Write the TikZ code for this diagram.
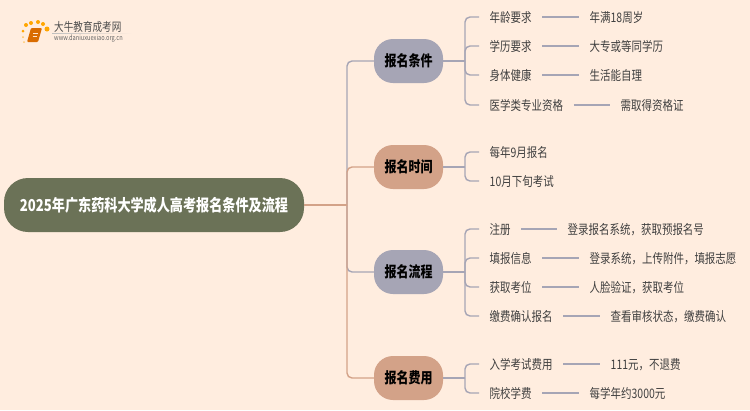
\documentclass[tikz,border=0pt]{standalone}
\usepackage{fontspec}
\setmainfont[FakeStretch=0.8]{Noto Sans CJK SC}
\definecolor{bgcol}{HTML}{FFEDDF}
\definecolor{rootcol}{HTML}{6B7257}
\definecolor{purplecol}{HTML}{A6A5B5}
\definecolor{tancol}{HTML}{D3A288}
\definecolor{textcol}{HTML}{3F3F3F}
\tikzset{
	rootnode/.style={fill=rootcol,text=white,font=\fontsize{16.4}{18}\selectfont\bfseries,rounded corners=24pt,minimum width=300pt,minimum height=54pt,inner sep=0pt},
	mainnode/.style={text=black,font=\fontsize{15}{17}\selectfont\bfseries,rounded corners=19pt,minimum width=69pt,minimum height=44pt,inner sep=0pt},
	leafnode/.style={text=textcol,font=\fontsize{13.1}{15}\selectfont,inner xsep=10.5pt,inner ysep=0pt,text height=11.5pt,text depth=1.5pt,anchor=west},
	purpleline/.style={draw=purplecol,line width=1.4pt,rounded corners=5pt},
	tanline/.style={draw=tancol,line width=1.4pt,rounded corners=5pt},
	linkline/.style={draw=purplecol,line width=1.2pt},
	dot/.style={fill=orange!70!yellow,circle,inner sep=0pt}
}
\begin{document}
\begin{tikzpicture}[x=1pt,y=-1pt]
	\useasboundingbox (0,0) rectangle (750,410);
	\fill [bgcol] (0,0) rectangle (750,410);
	% Logo
	\node [dot,minimum size=3pt] (dota) at (23,31) {};
	\node [dot,minimum size=4pt] (dotb) at (26,25) {};
	\node [dot,minimum size=4pt] (dotc) at (31,23) {};
	\node [dot,minimum size=4pt] (dotd) at (38,22) {};
	\node [dot,minimum size=4pt] (dote) at (43,24) {};
	\node [dot,minimum size=5pt] (dotf) at (47,29) {};
	\node [dot,minimum size=2pt,opacity=.6] (dotg) at (23,37) {};
	\node [dot,minimum size=2pt,opacity=.5] (doth) at (24,42) {};
	\fill [orange!85!black,rounded corners=1pt] (31,28) -- (42,28) -- (38,42) -- (27,42) -- cycle;
	\draw [white!80!orange,line width=0.7pt] (33,33) -- (38,33) (32.5,36) -- (37,36);
	\node [text=black!70,inner sep=0pt,anchor=west,font=\fontsize{12}{13}\selectfont] (logoname) at (54,27) {大牛教育成考网};
	\node [text=black!60,inner sep=0pt,anchor=west,font=\fontsize{7.1}{8}\selectfont] (logourl) at (54,38.5) {www.daniuxuexiao.org.cn};
	\fill [left color=black!25,right color=bgcol] (52,33) rectangle (132,33.8);
	% Root and main nodes
	\node [rootnode] (root) at (154,205) {2025年广东药科大学成人高考报名条件及流程};
	\node [mainnode,fill=purplecol] (cond) at (408.5,61) {报名条件};
	\node [mainnode,fill=tancol] (time) at (408.5,167) {报名时间};
	\node [mainnode,fill=purplecol] (flow) at (408.5,272) {报名流程};
	\node [mainnode,fill=tancol] (fee) at (408.5,378) {报名费用};
	% Leaves
	\node [leafnode] (conda) at (479,17) {年龄要求};
	\node [leafnode] (condb) at (479,46) {学历要求};
	\node [leafnode] (condc) at (479,75) {身体健康};
	\node [leafnode] (condd) at (479,105) {医学类专业资格};
	\node [leafnode] (timea) at (479,152) {每年9月报名};
	\node [leafnode] (timeb) at (479,181) {10月下旬考试};
	\node [leafnode] (flowa) at (479,229) {注册};
	\node [leafnode] (flowb) at (479,258) {填报信息};
	\node [leafnode] (flowc) at (479,287) {获取考位};
	\node [leafnode] (flowd) at (479,316) {缴费确认报名};
	\node [leafnode] (feea) at (479,364) {入学考试费用};
	\node [leafnode] (feeb) at (479,393) {院校学费};
	% Details
	\node [leafnode] (condad) at (579,17) {年满18周岁};
	\node [leafnode] (condbd) at (579,46) {大专或等同学历};
	\node [leafnode] (condcd) at (579,75) {生活能自理};
	\node [leafnode] (conddd) at (610,105) {需取得资格证};
	\node [leafnode] (flowad) at (557,229) {登录报名系统，获取预报名号};
	\node [leafnode] (flowbd) at (579,258) {登录系统，上传附件，填报志愿};
	\node [leafnode] (flowcd) at (579,287) {人脸验证，获取考位};
	\node [leafnode] (flowdd) at (600,316) {查看审核状态，缴费确认};
	\node [leafnode] (feead) at (600,364) {111元，不退费};
	\node [leafnode] (feebd) at (579,393) {每学年约3000元};
	% Root to main
	\coordinate (trunk) at (347,205);
	\draw [purpleline] (trunk) |- (cond.west);
	\draw [purpleline] (trunk) |- (flow.west);
	\draw [tanline] (root.east) -- (trunk);
	\draw [tanline] (trunk) |- (time.west);
	\draw [tanline] (trunk) |- (fee.west);
	% Main to leaves
	\coordinate (condfork) at (465,61);
	\coordinate (timefork) at (465,167);
	\coordinate (flowfork) at (465,272);
	\coordinate (feefork) at (465,378);
	\draw [purpleline] (cond.east) -- (condfork);
	\draw [purpleline] (condfork) |- (conda.west);
	\draw [purpleline] (condfork) |- (condb.west);
	\draw [purpleline] (condfork) |- (condc.west);
	\draw [purpleline] (condfork) |- (condd.west);
	\draw [purpleline] (time.east) -- (timefork);
	\draw [purpleline] (timefork) |- (timea.west);
	\draw [purpleline] (timefork) |- (timeb.west);
	\draw [purpleline] (flow.east) -- (flowfork);
	\draw [purpleline] (flowfork) |- (flowa.west);
	\draw [purpleline] (flowfork) |- (flowb.west);
	\draw [purpleline] (flowfork) |- (flowc.west);
	\draw [purpleline] (flowfork) |- (flowd.west);
	\draw [purpleline] (fee.east) -- (feefork);
	\draw [purpleline] (feefork) |- (feea.west);
	\draw [purpleline] (feefork) |- (feeb.west);
	% Leaves to details
	\draw [linkline] (conda.east) -- (condad.west);
	\draw [linkline] (condb.east) -- (condbd.west);
	\draw [linkline] (condc.east) -- (condcd.west);
	\draw [linkline] (condd.east) -- (conddd.west);
	\draw [linkline] (flowa.east) -- (flowad.west);
	\draw [linkline] (flowb.east) -- (flowbd.west);
	\draw [linkline] (flowc.east) -- (flowcd.west);
	\draw [linkline] (flowd.east) -- (flowdd.west);
	\draw [linkline] (feea.east) -- (feead.west);
	\draw [linkline] (feeb.east) -- (feebd.west);
\end{tikzpicture}
\end{document}
